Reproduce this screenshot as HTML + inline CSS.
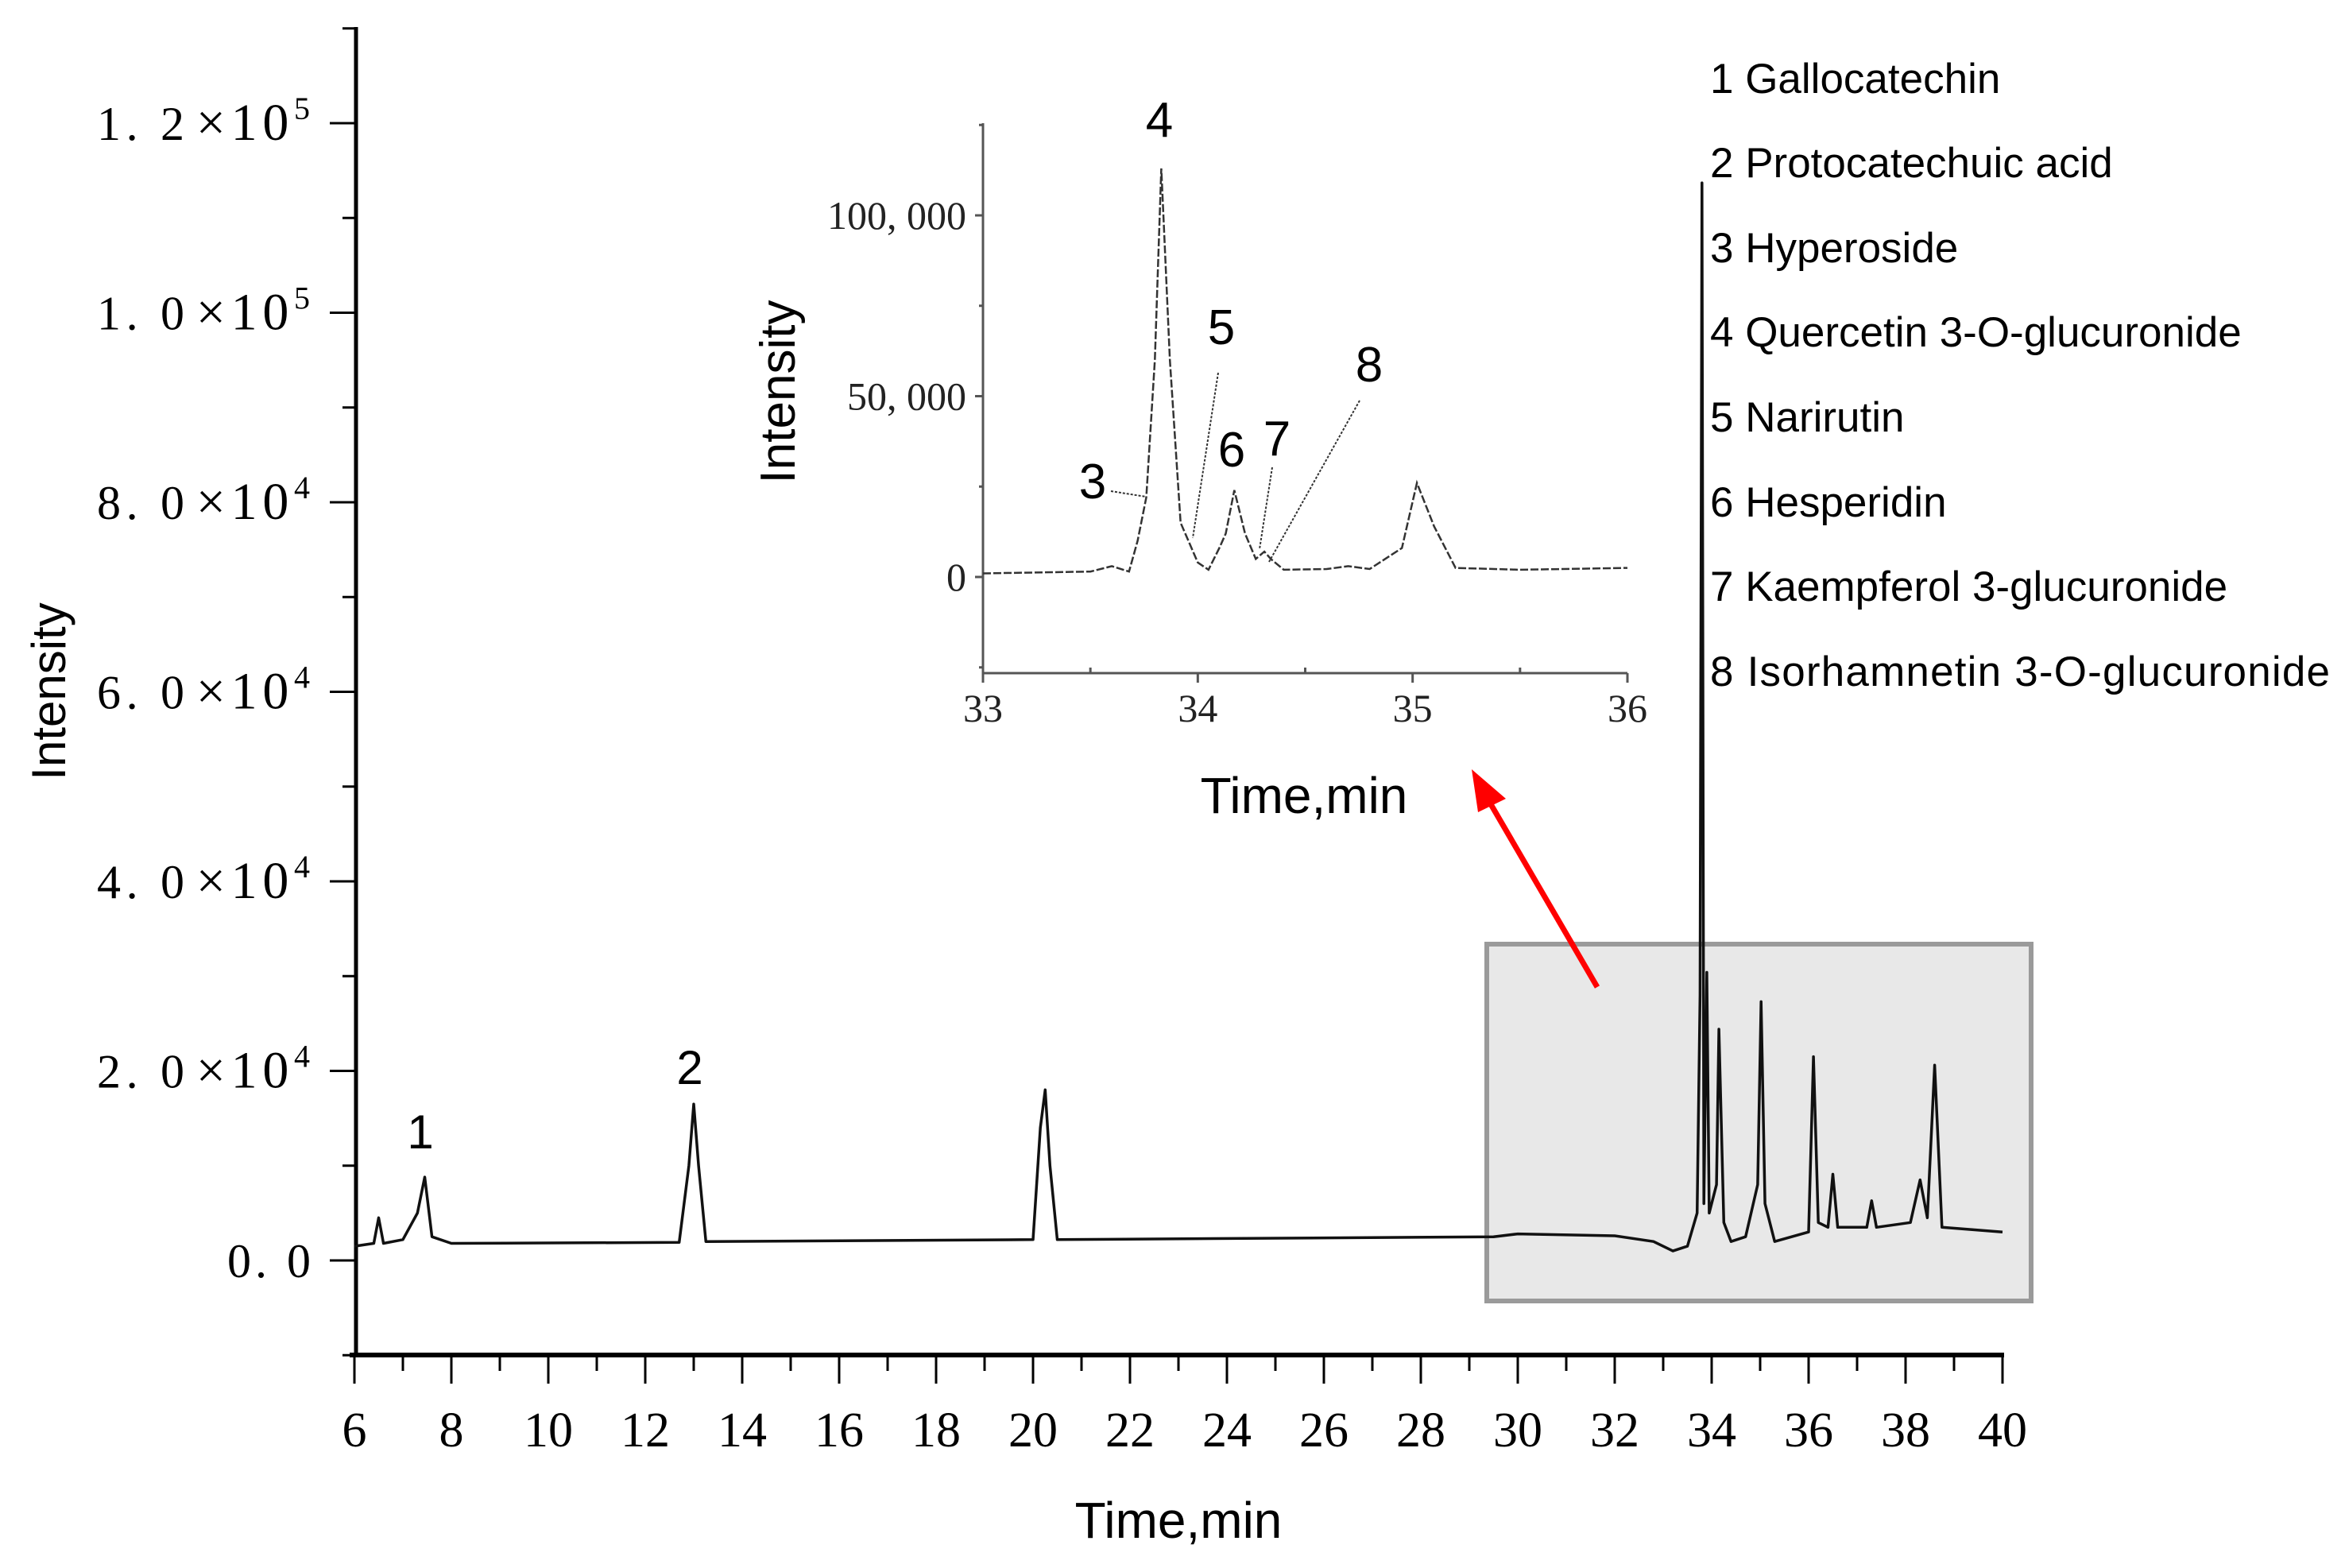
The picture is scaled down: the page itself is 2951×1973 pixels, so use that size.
<!DOCTYPE html>
<html><head><meta charset="utf-8"><style>
html,body{margin:0;padding:0;background:#fff}
svg{display:block}
.ser{font-family:"Liberation Serif","Noto Serif CJK SC",serif}
.san{font-family:"Liberation Sans",sans-serif}
</style></head><body>
<svg id="chart" width="2951" height="1973" viewBox="0 0 2951 1973" xmlns="http://www.w3.org/2000/svg">
<rect width="2951" height="1973" fill="#fff"/>
<rect x="1871" y="1188" width="685" height="449" fill="#e8e8e8" stroke="#9a9a9a" stroke-width="6"/>
<g id="main"></g>
<g id="inset"></g>
<g id="legend" class="san" font-size="53" fill="#000">
<text x="2152" y="117">1 Gallocatechin</text>
<text x="2152" y="223">2 Protocatechuic acid</text>
<text x="2152" y="330">3 Hyperoside</text>
<text x="2152" y="436">4 Quercetin 3-O-glucuronide</text>
<text x="2152" y="543">5 Narirutin</text>
<text x="2152" y="650">6 Hesperidin</text>
<text x="2152" y="756">7 Kaempferol 3-glucuronide</text>
<text x="2152" y="863" textLength="780">8 Isorhamnetin 3-O-glucuronide</text>
</g>
<g>
<line x1="2010" y1="1242" x2="1872" y2="1005" stroke="#f00" stroke-width="7"/>
<polygon points="1852,968 1895,1005 1860,1022" fill="#f00"/>
</g>
</svg>
<script>
const NS="http://www.w3.org/2000/svg";
// ---- main chart data ----
const mainTimes=[6.0,6.4,6.5,6.6,7.0,7.3,7.45,7.6,8.0,12.7,12.9,13.0,13.1,13.25,20.0,20.15,20.25,20.35,20.5,29.5,30,32,32.8,33.2,33.5,33.7,33.76,33.8,33.84,33.9,33.95,34.1,34.15,34.25,34.4,34.7,34.95,35.02,35.1,35.3,36.0,36.1,36.2,36.4,36.5,36.6,37.2,37.3,37.4,38.1,38.3,38.45,38.6,38.75,40];
const mainValues=[1500,1800,4500,1800,2200,5000,8800,2500,1800,1900,10000,16500,10000,2000,2200,14000,18000,10000,2200,2500,2800,2600,2000,1000,1500,5000,28000,113700,6000,30400,5000,8000,24400,4000,2000,2500,8000,27300,6000,2000,3000,21500,4000,3500,9100,3500,3500,6300,3500,4000,8500,4500,20600,3500,3000];
const xTicks=[6,8,10,12,14,16,18,20,22,24,26,28,30,32,34,36,38,40];
const yTickVals=[120000,100000,80000,60000,40000,20000];
const yTickMant=["1. 2","1. 0","8. 0","6. 0","4. 0","2. 0"];
const yTickExp=["5","5","4","4","4","4"];
// ---- inset data ----
const insetTimes=[33.0,33.5,33.6,33.68,33.72,33.76,33.8,33.83,33.87,33.92,34.0,34.05,34.1,34.13,34.17,34.22,34.27,34.31,34.34,34.4,34.6,34.7,34.8,34.95,35.02,35.1,35.2,35.5,36.0];
const insetValues=[1000,1500,3000,1500,10000,22000,60000,113000,60000,15000,4000,2000,8000,12000,24000,12000,5000,7000,5000,2000,2200,3000,2200,8000,26000,14000,2500,2000,2500];
const insetXTicks=[33,34,35,36];
const insetYTicks=[0,50000,100000];
const insetYLabels=["0","50, 000","100, 000"];

const X=t=>446+(t-6)*(2520-446)/34;
const Y=v=>1586-v*(1586-155)/120000;
const IX=t=>1237+(t-33)*(2048-1237)/3;
const IY=v=>726-v*(726-271)/100000;

function el(tag,attrs,parent,text){const e=document.createElementNS(NS,tag);for(const k in attrs)e.setAttribute(k,attrs[k]);if(text!==undefined)e.textContent=text;parent.appendChild(e);return e;}
const main=document.getElementById('main');
const inset=document.getElementById('inset');

let a=el('line',{x1:448,y1:34,x2:448,y2:1707,stroke:'#000','stroke-width':5},main);


a=el('line',{x1:440,y1:1705,x2:2522,y2:1705,stroke:'#000','stroke-width':6},main);


for(let t=6;t<=40;t++){
  const major=(t%2===0);
  el('line',{x1:X(t),y1:1705,x2:X(t),y2:1705+(major?36:20),stroke:'#000','stroke-width':3},main);
}
xTicks.forEach(t=>{
  const tx=el('text',{x:X(t),y:1820,'text-anchor':'middle','font-size':62,class:'ser'},main,String(t));
  
  
});
for(let v=-10000;v<=130000;v+=10000){
  const major=(v%20000===0);
  el('line',{x1:448,y1:Y(v),x2:448-(major?33:17),y2:Y(v),stroke:'#000','stroke-width':3},main);
}
yTickVals.forEach((v,i)=>{
  const g=el('text',{x:122,y:Y(v)+21,'font-size':60,class:'ser',textLength:268,lengthAdjust:'spacing'},main);
  
  
  el('tspan',{},g,yTickMant[i]);
  el('tspan',{dx:8,'font-size':66},g,'×10');
  el('tspan',{dy:-26,'font-size':40},g,yTickExp[i]);
});
let z=el('text',{x:391,y:Y(0)+21,'font-size':60,'text-anchor':'end',class:'ser',textLength:105,lengthAdjust:'spacing'},main,'0. 0');


let yt=el('text',{x:0,y:0,'font-size':60,class:'san','text-anchor':'middle',transform:'translate(82,870) rotate(-90)'},main,'Intensity');


let xt=el('text',{x:1483,y:1935,'font-size':64,class:'san','text-anchor':'middle'},main,'Time,min');



let d=mainTimes.map((t,i)=>(i?'L':'M')+X(t).toFixed(1)+','+Y(mainValues[i]).toFixed(1)).join(' ');
let p=el('path',{d:d,fill:'none',stroke:'#111','stroke-width':3.5,'stroke-linejoin':'round'},main);


let l1=el('text',{x:529,y:1445,'font-size':60,class:'san','text-anchor':'middle'},main,'1');


let l2=el('text',{x:868,y:1364,'font-size':60,class:'san','text-anchor':'middle'},main,'2');



a=el('line',{x1:1237,y1:155,x2:1237,y2:847,stroke:'#555','stroke-width':3},inset);


a=el('line',{x1:1237,y1:847,x2:2048,y2:847,stroke:'#555','stroke-width':3},inset);


for(let t=33;t<=36.01;t+=0.5){
  const major=Math.abs(t-Math.round(t))<0.01;
  el('line',{x1:IX(t),y1:847,x2:IX(t),y2:major?859:840,stroke:'#555','stroke-width':3},inset);
}
for(let v=-25000;v<=125000;v+=25000){
  el('line',{x1:1237,y1:IY(v),x2:1237-(v%50000===0?10:5),y2:IY(v),stroke:'#555','stroke-width':3},inset);
}
insetXTicks.forEach(t=>{
  const tx=el('text',{x:IX(t),y:908,'text-anchor':'middle','font-size':50,class:'ser',fill:'#222'},inset,String(t));
  
  
});
insetYTicks.forEach((v,i)=>{
  const tx=el('text',{x:1216,y:IY(v)+17,'text-anchor':'end','font-size':50,class:'ser',fill:'#222'},inset,insetYLabels[i]);
  
  
});
yt=el('text',{x:0,y:0,'font-size':62,class:'san','text-anchor':'middle',transform:'translate(1000,493) rotate(-90)'},inset,'Intensity');


xt=el('text',{x:1641,y:1023,'font-size':64,class:'san','text-anchor':'middle'},inset,'Time,min');


d=insetTimes.map((t,i)=>(i?'L':'M')+IX(t).toFixed(1)+','+IY(insetValues[i]).toFixed(1)).join(' ');
p=el('path',{d:d,fill:'none',stroke:'#333','stroke-width':2.5,'stroke-dasharray':'10 3'},inset);


const leaders=[[1398,618,1442,625],[1533,469,1501,677],[1601,588,1585,691],[1711,504,1597,707]];
leaders.forEach(q=>{el('line',{x1:q[0],y1:q[1],x2:q[2],y2:q[3],stroke:'#333','stroke-width':2,'stroke-dasharray':'3 2'},inset);});
const pl=[["3",1375,627],["4",1459,172],["5",1537,433],["6",1550,587],["7",1607,573],["8",1723,480]];
pl.forEach(q=>{
  const tx=el('text',{x:q[1],y:q[2],'font-size':62,class:'san','text-anchor':'middle'},inset,q[0]);
  
  
});
</script>
</body></html>
